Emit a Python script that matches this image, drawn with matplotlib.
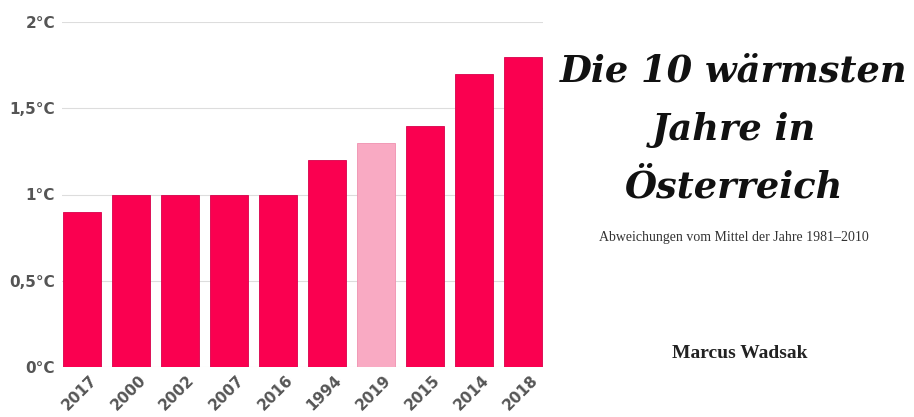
import matplotlib
matplotlib.use("Agg")
import matplotlib.pyplot as plt

# Data
years = ["2017", "2000", "2002", "2007", "2016", "1994", "2019", "2015", "2014", "2018"]
anomaly = [0.9, 1.0, 1.0, 1.0, 1.0, 1.2, 1.3, 1.4, 1.7, 1.8]
highlight = "2019"
yticks = [0, 0.5, 1, 1.5, 2]
ytick_labels = ["0°C", "0,5°C", "1°C", "1,5°C", "2°C"]

main_col = "#FA0050"
light_col = "#F9AAC3"
colors = [light_col if y == highlight else main_col for y in years]
edges = ["#f090b0" if y == highlight else "#d8004a" for y in years]

fig = plt.figure(figsize=(9.14, 4.17), dpi=100)
ax = fig.add_axes([62/914, 50/417, (543-62)/914, 345/417])

ax.bar(range(len(years)), anomaly, width=0.78, color=colors,
       edgecolor=edges, linewidth=0.6, zorder=3)

ax.set_ylim(0, 2)
ax.set_xlim(-0.41, 9.41)
ax.set_yticks(yticks)
ax.set_yticklabels(ytick_labels)
ax.set_xticks(range(len(years)))
ax.set_xticklabels(years, rotation=45, ha="right", rotation_mode="anchor")
ax.grid(axis="y", color="#dddddd", linewidth=0.8, zorder=0)
for s in ax.spines.values():
    s.set_visible(False)
ax.tick_params(length=0, pad=5)
for lab in ax.get_xticklabels() + ax.get_yticklabels():
    lab.set_family("DejaVu Sans")
    lab.set_fontweight("bold")
    lab.set_color("#555555")
    lab.set_fontsize(11)
# nudge the rotated year labels so they end under the bar centre
for lab in ax.get_xticklabels():
    lab.set_transform(lab.get_transform() + matplotlib.transforms.ScaledTranslation(5/72, 1/72, fig.dpi_scale_trans))

# Title block
tx = 734/914
for txt, y in [("Die 10 wärmsten", 72), ("Jahre in", 130), ("Österreich", 188)]:
    fig.text(tx, 1 - y/417, txt, ha="center", va="center", family="DejaVu Serif",
             fontweight="bold", style="italic", fontsize=26.5, color="#111111")
fig.text(tx, 1 - 237/417, "Abweichungen vom Mittel der Jahre 1981–2010", ha="center", va="center",
         family="Liberation Serif", fontsize=10, color="#333333")
fig.text(740/914, 1 - 354/417, "Marcus Wadsak", ha="center", va="center",
         family="Liberation Serif", fontweight="bold", fontsize=14, color="#222222")

fig.savefig("out.png", dpi=100)
